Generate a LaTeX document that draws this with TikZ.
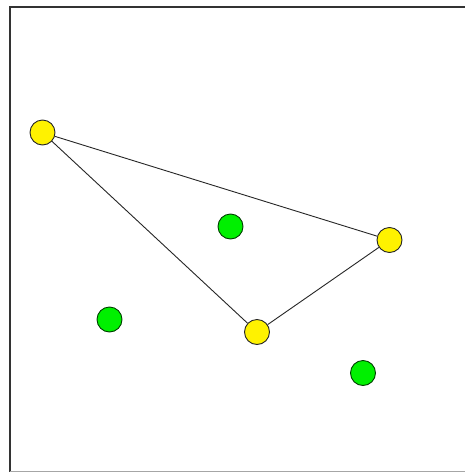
\documentclass[tikz,border=0pt]{standalone}
\begin{document}
\begin{tikzpicture}[x=1pt,y=-1pt,
  ydot/.style={circle,draw=black!85,fill=yellow,line width=0.9pt,minimum size=25pt,inner sep=0pt},
  gdot/.style={circle,draw=black!75!green,fill=green!85!black!40!green,line width=0.9pt,minimum size=25pt,inner sep=0pt},
  edge/.style={draw=black!85,line width=0.9pt}]
\useasboundingbox (0,0) rectangle (465,472);
\fill[white] (0,0) rectangle (465,472);
\draw[black!80,line width=2pt] (9.5,472) -- (9.5,6.5) -- (465,6.5);
\draw[black!35,line width=1pt] (9.5,471.5) -- (465,471.5);
\node[ydot] (a) at (42.5,132.5) {};
\node[ydot] (b) at (389.5,240) {};
\node[ydot] (c) at (257,332) {};
\node[gdot] (g1) at (230.5,226.5) {};
\node[gdot] (g2) at (109.5,319.5) {};
\node[gdot] (g3) at (363,373) {};
\draw[edge] (a) -- (b);
\draw[edge] (a) -- (c);
\draw[edge] (c) -- (b);
\end{tikzpicture}
\end{document}
